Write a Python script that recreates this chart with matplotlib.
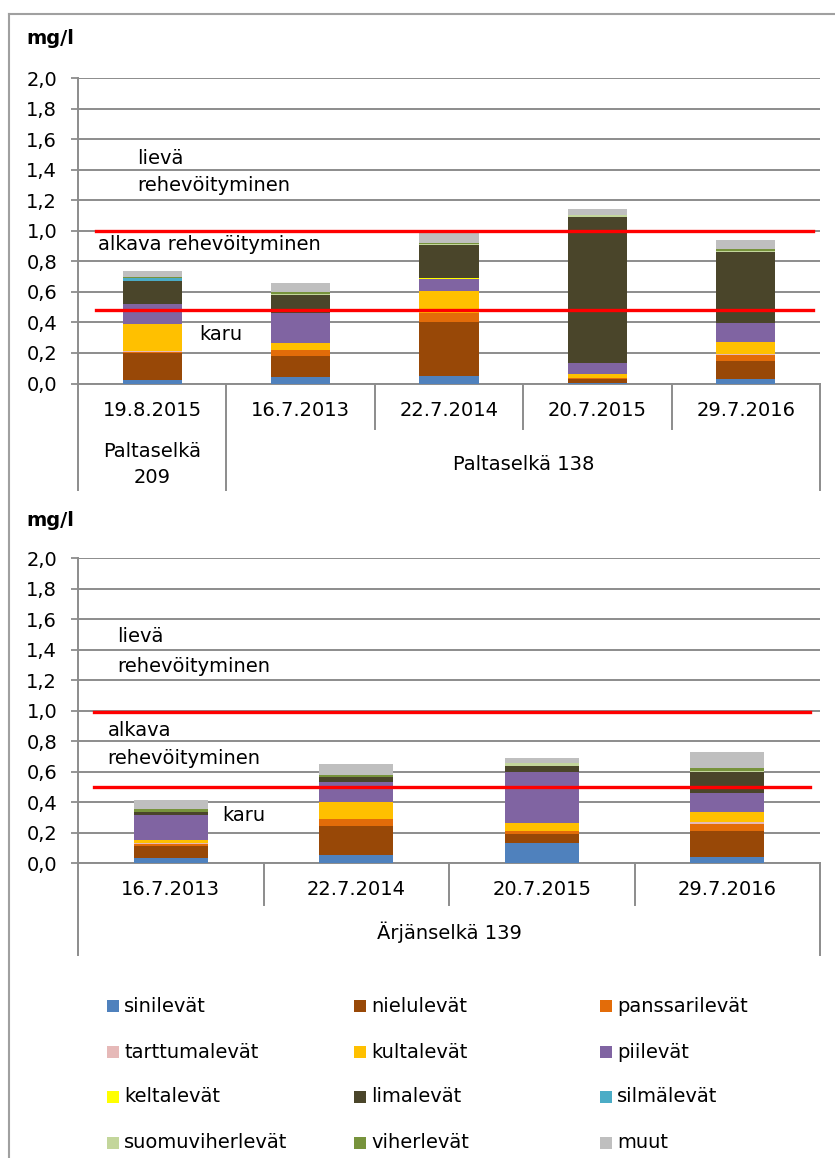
import matplotlib.pyplot as plt
from matplotlib.lines import Line2D
from matplotlib.patches import Rectangle
from matplotlib.ticker import FuncFormatter, MultipleLocator

SERIES = ["sinilevät", "nielulevät", "panssarilevät", "tarttumalevät", "kultalevät", "piilevät",
          "keltalevät", "limalevät", "silmälevät", "suomuviherlevät", "viherlevät", "muut"]
COLORS = ["#4F81BD", "#984807", "#E36C09", "#E6B9B8", "#FFC000", "#8064A2",
          "#FFFF00", "#4A452A", "#4BACC6", "#C3D69B", "#77933C", "#BFBFBF"]

TOP_DATES = ["19.8.2015", "16.7.2013", "22.7.2014", "20.7.2015", "29.7.2016"]
TOP_GROUPS = [("Paltaselkä\n209", 1), ("Paltaselkä 138", 4)]
# one row per date, columns in SERIES order (mg/l)
TOP_VALUES = [
    [0.020, 0.180, 0.005, 0.005, 0.180, 0.130, 0.000, 0.148, 0.020, 0.003, 0.007, 0.040],
    [0.040, 0.140, 0.038, 0.004, 0.042, 0.200, 0.000, 0.117, 0.000, 0.004, 0.016, 0.059],
    [0.050, 0.353, 0.060, 0.000, 0.140, 0.080, 0.005, 0.220, 0.000, 0.004, 0.010, 0.066],
    [0.005, 0.025, 0.005, 0.000, 0.024, 0.077, 0.000, 0.953, 0.000, 0.012, 0.003, 0.040],
    [0.030, 0.120, 0.035, 0.010, 0.075, 0.125, 0.000, 0.466, 0.000, 0.005, 0.015, 0.060],
]
TOP_LIMITS = [1.0, 0.48]

BOT_DATES = ["16.7.2013", "22.7.2014", "20.7.2015", "29.7.2016"]
BOT_GROUPS = [("Ärjänselkä 139", 4)]
BOT_VALUES = [
    [0.033, 0.083, 0.013, 0.004, 0.020, 0.164, 0.000, 0.017, 0.000, 0.004, 0.018, 0.060],
    [0.055, 0.190, 0.048, 0.000, 0.110, 0.127, 0.000, 0.033, 0.000, 0.003, 0.012, 0.070],
    [0.133, 0.062, 0.017, 0.000, 0.052, 0.337, 0.000, 0.039, 0.000, 0.014, 0.000, 0.035],
    [0.042, 0.172, 0.046, 0.010, 0.069, 0.120, 0.000, 0.142, 0.000, 0.004, 0.020, 0.103],
]
BOT_LIMITS = [0.99, 0.50]

GRID = "#8C8C8C"
FS = 14

plt.rcParams['font.family'] = ['DejaVu Sans']

fig = plt.figure(figsize=(8.35, 11.58), dpi=100)
W, H = 835, 1158


def px_axes(x0, x1, ytop, ybot):
    return fig.add_axes([x0 / W, 1 - ybot / H, (x1 - x0) / W, (ybot - ytop) / H])


def draw_chart(ax, dates, values, groups, limits, date_y, group_y, tick_depth, group_depth, red_x):
    n = len(dates)
    bottoms = [0.0] * n
    for s, color in enumerate(COLORS):
        heights = [row[s] for row in values]
        ax.bar(range(n), heights, width=0.4, bottom=bottoms, color=color, linewidth=0, zorder=3)
        bottoms = [b + h for b, h in zip(bottoms, heights)]

    ax.set_xlim(-0.5, n - 0.5)
    ax.set_ylim(0, 2.0)
    ax.yaxis.set_major_locator(MultipleLocator(0.2))
    ax.yaxis.set_major_formatter(FuncFormatter(lambda v, _: f"{v:.1f}".replace(".", ",")))
    ax.tick_params(axis='y', length=5, width=1.3, color=GRID, labelsize=FS, pad=10)
    ax.tick_params(axis='x', length=0, labelbottom=False)
    ax.grid(axis='y', color=GRID, linewidth=1.4, zorder=1)
    ax.set_axisbelow(True)
    for side in ("top", "right"):
        ax.spines[side].set_visible(False)
    for side in ("left", "bottom"):
        ax.spines[side].set_color(GRID)
        ax.spines[side].set_linewidth(1.4)

    for lim in limits:
        ax.plot(red_x, [lim, lim], color="#FF0000", linewidth=2.4, transform=ax.get_yaxis_transform(), zorder=4)

    xt = ax.get_xaxis_transform()
    for i, d in enumerate(dates):
        ax.text(i, date_y, d, transform=xt, ha='center', va='center', fontsize=FS)
    # category separators
    edges = [i - 0.5 for i in range(n + 1)]
    group_edges = [-0.5]
    start = 0
    for label, count in groups:
        mid = start + (count - 1) / 2
        ax.text(mid, group_y, label, transform=xt, ha='center', va='center', fontsize=FS, linespacing=1.45)
        start += count
        group_edges.append(start - 0.5)
    for e in edges:
        depth = group_depth if e in group_edges else tick_depth
        ax.add_line(Line2D([e, e], [0, depth], transform=xt, color=GRID, linewidth=1.4, clip_on=False))


top = px_axes(78, 820, 78, 383.5)
draw_chart(top, TOP_DATES, TOP_VALUES, TOP_GROUPS, TOP_LIMITS,
           date_y=-0.09, group_y=-0.265, tick_depth=-0.15, group_depth=-0.35, red_x=[0.024, 0.99])
top.text(0.0795, 1.476, "lievä", transform=top.get_yaxis_transform(), fontsize=FS, va='center')
top.text(0.0795, 1.293, "rehevöityminen", transform=top.get_yaxis_transform(), fontsize=FS, va='center')
top.text(0.027, 0.913, "alkava rehevöityminen", transform=top.get_yaxis_transform(), fontsize=FS, va='center')
top.text(0.164, 0.324, "karu", transform=top.get_yaxis_transform(), fontsize=FS, va='center')

bot = px_axes(78, 820, 558, 863.3)
draw_chart(bot, BOT_DATES, BOT_VALUES, BOT_GROUPS, BOT_LIMITS,
           date_y=-0.087, group_y=-0.225, tick_depth=-0.137, group_depth=-0.30, red_x=[0.022, 0.987])
bot.text(0.0526, 1.489, "lievä", transform=bot.get_yaxis_transform(), fontsize=FS, va='center')
bot.text(0.0526, 1.286, "rehevöityminen", transform=bot.get_yaxis_transform(), fontsize=FS, va='center')
bot.text(0.040, 0.867, "alkava", transform=bot.get_yaxis_transform(), fontsize=FS, va='center')
bot.text(0.040, 0.684, "rehevöityminen", transform=bot.get_yaxis_transform(), fontsize=FS, va='center')
bot.text(0.194, 0.316, "karu", transform=bot.get_yaxis_transform(), fontsize=FS, va='center')

fig.text(26 / W, 1 - 38 / H, "mg/l", fontsize=FS, fontweight='bold', va='center')
fig.text(26 / W, 1 - 520 / H, "mg/l", fontsize=FS, fontweight='bold', va='center')

# outer frame (left and top edges only are visible)
fig.add_artist(Line2D([9 / W, 9 / W], [0, 1 - 14 / H], color="#A0A0A0", linewidth=1.5))
fig.add_artist(Line2D([9 / W, 1], [1 - 14 / H, 1 - 14 / H], color="#A0A0A0", linewidth=1.5))

# legend laid out as an even 3-column grid
col_x = [107, 354, 600]
row_y = [1006, 1052, 1097, 1143]
for i, (name, color) in enumerate(zip(SERIES, COLORS)):
    x = col_x[i % 3]
    y = row_y[i // 3]
    fig.add_artist(Rectangle((x / W, 1 - (y + 6) / H), 12 / W, 12 / H, facecolor=color, edgecolor='none',
                             transform=fig.transFigure))
    fig.text((x + 17) / W, 1 - y / H, name, fontsize=FS, va='center')

fig.savefig("out.png", dpi=100)
